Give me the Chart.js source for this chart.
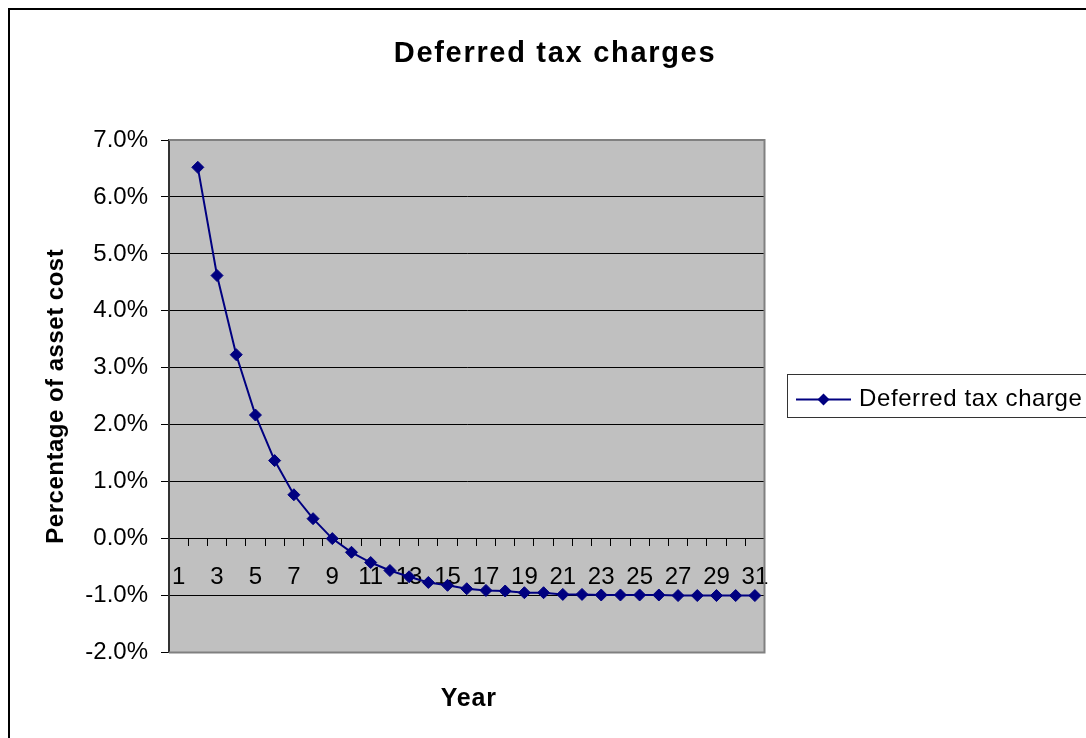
<!DOCTYPE html>
<html>
<head>
<meta charset="utf-8">
<script src="https://cdn.jsdelivr.net/npm/chart.js@4/dist/chart.umd.min.js"></script>
<style>
  html, body { margin: 0; padding: 0; background: #ffffff; }
  #wrap { width: 1086px; height: 738px; position: relative; }
</style>
</head>
<body>
<div id="wrap"><canvas id="chart"></canvas></div>
<script>
// Years on the category axis
const years = [1, 2, 3, 4, 5, 6, 7, 8, 9, 10, 11, 12, 13, 14, 15, 16,
               17, 18, 19, 20, 21, 22, 23, 24, 25, 26, 27, 28, 29, 30, 31];

// Deferred tax charge, percent of asset cost (no charge in year 1)
const deferredTaxCharge = [null, 6.52, 4.62, 3.23, 2.17, 1.37, 0.77, 0.35, 0.00,
                           -0.24, -0.42, -0.56, -0.67, -0.77, -0.82, -0.88, -0.91,
                           -0.92, -0.95, -0.95, -0.98, -0.98, -0.99, -0.99, -0.99,
                           -0.99, -1.00, -1.00, -1.00, -1.00, -1.00];

const seriesName = 'Deferred tax charge';
const chartTitle = 'Deferred tax charges';
const xAxisTitle = 'Year';
const yAxisTitle = 'Percentage of asset cost';

// Value axis range, in percent
const yMin = -2;
const yMax = 7;
const yStep = 1;

const FONT = "'Liberation Sans', Arial, sans-serif";
const NAVY = '#000080';

Chart.defaults.font.family = FONT;
Chart.defaults.color = '#000000';

// Grey plot background, plot frame, titles, legend box and outer border
const decorations = {
  id: 'decorations',
  beforeDraw(chart) {
    const { ctx, chartArea: a } = chart;
    ctx.save();
    ctx.fillStyle = '#c0c0c0';
    ctx.fillRect(a.left, a.top, a.right - a.left, a.bottom - a.top);
    ctx.restore();
  },
  beforeDatasetsDraw(chart) {
    const { ctx, chartArea: a } = chart;
    ctx.save();
    ctx.strokeStyle = '#808080';
    ctx.lineWidth = 2;
    ctx.beginPath();
    ctx.moveTo(a.left, a.top);
    ctx.lineTo(a.right, a.top);
    ctx.lineTo(a.right, a.bottom);
    ctx.lineTo(a.left, a.bottom);
    ctx.stroke();
    ctx.restore();
  },
  afterDraw(chart) {
    const { ctx, chartArea: a } = chart;
    ctx.save();
    ctx.fillStyle = '#000000';

    // Chart title
    ctx.font = 'bold 29px ' + FONT;
    ctx.letterSpacing = '1.7px';
    ctx.textAlign = 'center';
    ctx.textBaseline = 'alphabetic';
    ctx.fillText(chartTitle, 555, 62);

    // X axis title
    ctx.font = 'bold 25px ' + FONT;
    ctx.letterSpacing = '0.8px';
    ctx.fillText(xAxisTitle, (a.left + a.right) / 2 + 2, 706);

    // Y axis title (rotated)
    ctx.save();
    ctx.translate(63, (a.top + a.bottom) / 2);
    ctx.rotate(-Math.PI / 2);
    ctx.font = 'bold 24px ' + FONT;
    ctx.letterSpacing = '0.5px';
    ctx.fillText(yAxisTitle, 0, 0);
    ctx.restore();

    // Legend
    const ds = chart.data.datasets[0];
    ctx.letterSpacing = '0px';
    ctx.strokeStyle = '#333333';
    ctx.lineWidth = 1;
    ctx.strokeRect(787.5, 374.5, 400, 43);
    ctx.strokeStyle = ds.borderColor;
    ctx.lineWidth = 2;
    ctx.beginPath();
    ctx.moveTo(796, 399.5);
    ctx.lineTo(851, 399.5);
    ctx.stroke();
    ctx.fillStyle = ds.pointBackgroundColor;
    ctx.beginPath();
    ctx.moveTo(823.5, 393.5);
    ctx.lineTo(829.5, 399.5);
    ctx.lineTo(823.5, 405.5);
    ctx.lineTo(817.5, 399.5);
    ctx.closePath();
    ctx.fill();
    ctx.fillStyle = '#000000';
    ctx.font = '24px ' + FONT;
    ctx.letterSpacing = '0.6px';
    ctx.textAlign = 'left';
    ctx.fillText(ds.label, 859, 405.5);

    // Outer chart border
    ctx.letterSpacing = '0px';
    ctx.strokeStyle = '#000000';
    ctx.lineWidth = 2;
    ctx.strokeRect(9, 9, 1300, 1000);
    ctx.restore();
  }
};

new Chart(document.getElementById('chart'), {
  type: 'line',
  data: {
    labels: years,
    datasets: [{
      label: seriesName,
      data: deferredTaxCharge,
      borderColor: NAVY,
      backgroundColor: NAVY,
      borderWidth: 2,
      tension: 0,
      pointStyle: 'rectRot',
      pointRadius: 6,
      pointBorderWidth: 1,
      pointBackgroundColor: NAVY,
      pointBorderColor: NAVY,
      spanGaps: false
    }]
  },
  options: {
    responsive: true,
    maintainAspectRatio: false,
    animation: false,
    devicePixelRatio: 1,
    layout: { padding: { left: 0, top: 140, right: 321.5, bottom: 85.5 } },
    plugins: {
      legend: { display: false },
      title: { display: false },
      tooltip: { enabled: false }
    },
    scales: {
      x: {
        type: 'category',
        position: { y: 0 },
        offset: true,
        border: { display: true, color: '#000000', width: 1 },
        grid: {
          display: true,
          offset: true,
          drawOnChartArea: false,
          drawTicks: true,
          tickLength: 7,
          color: '#000000',
          lineWidth: 1
        },
        ticks: {
          autoSkip: false,
          maxRotation: 0,
          minRotation: 0,
          padding: 17,
          font: { size: 24 },
          color: '#000000',
          callback(value, index) {
            return index % 2 === 0 ? this.getLabelForValue(value) : '';
          }
        }
      },
      y: {
        min: yMin,
        max: yMax,
        border: { display: true, color: '#333333', width: 2 },
        grid: {
          color: '#000000',
          lineWidth: 1,
          drawTicks: true,
          tickLength: 8
        },
        ticks: {
          stepSize: yStep,
          padding: 13,
          font: { size: 24 },
          color: '#000000',
          callback: (v) => v.toFixed(1) + '%'
        },
        afterFit(scale) { scale.width = 169; }
      }
    }
  },
  plugins: [decorations]
});
</script>
</body>
</html>
